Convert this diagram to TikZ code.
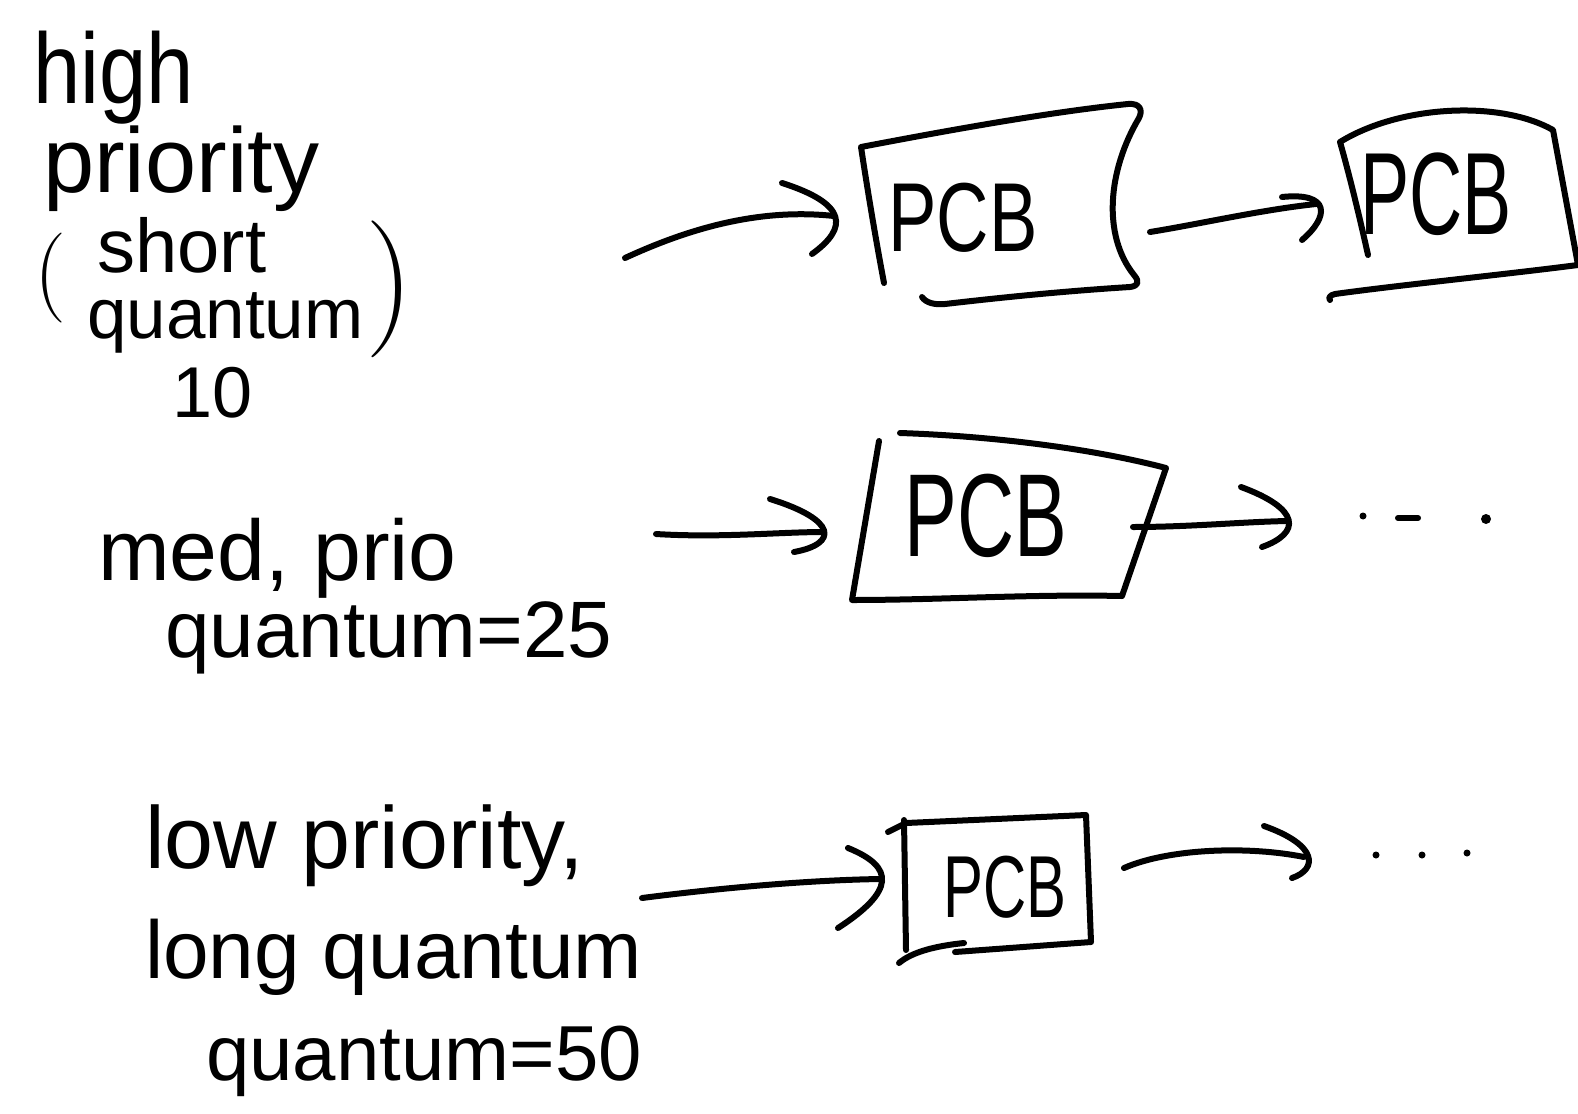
\documentclass[tikz,border=0pt]{standalone}
\usepackage{fontspec}
\setsansfont{Liberation Sans}
\newcommand\hsz[1]{\fontsize{#1}{#1}\selectfont}
% hand-drawn arrow head at named tip #1, upper barb offset #2, lower barb offset #3
\newcommand\hhead[3]{\draw[ink] ([shift={(#2)}]#1) .. controls ([shift={(14,-12)}]#1) and ([shift={(14,12)}]#1) .. ([shift={(#3)}]#1);}
\begin{document}
\begin{tikzpicture}[x=1pt,y=-1pt,
  ink/.style={line width=6pt, line cap=round, line join=round},
  lbl/.style={anchor=base west, inner sep=0pt, font=\sffamily\hsz{#1}},
  paren/.style={anchor=base west, inner sep=0pt, font=\rmfamily\hsz{#1}},
  pcb/.style={inner sep=0pt, font=\sffamily\hsz{#1}},
  dotn/.style={circle, fill, inner sep=0pt, minimum size=#1pt},
]
\fill[white] (0,0) rectangle (1578,1113);
\useasboundingbox (0,0) rectangle (1578,1113);

% ---- labels, row 1
\node[lbl=100] (hi) at (33,104) {\scalebox{0.85}[1]{high}};
\node[lbl=92] (pr) at (43,192) {priority};
\node[paren=90] (lp) at (34,300) {(};
\node[lbl=76] (sh) at (97,272) {short};
\node[lbl=71] (qu) at (87,338) {quantum};
\node[paren=137] (rp) at (365,323) {)};
\node[lbl=72] (ten) at (172,417) {10};

% ---- labels, row 2
\node[lbl=86] (md) at (98,580) {med, prio};
\node[lbl=80] (q25) at (165,657) {quantum=25};

% ---- labels, row 3
\node[lbl=88] (lw) at (145,868) {low priority,};
\node[lbl=82] (lg) at (145,978) {long quantum};
\node[lbl=78] (q50) at (206,1080) {quantum=50};

% ---- PCB texts
\node[pcb=98] (p1) at (963,218) {\scalebox{0.74}[1]{PCB}};
\node[pcb=117] (p2) at (1436,194) {\scalebox{0.63}[1]{PCB}};
\node[pcb=118] (p3) at (986,516) {\scalebox{0.67}[1]{PCB}};
\node[pcb=88] (p4) at (1005,887) {\scalebox{0.68}[1]{PCB}};

% ---- boxes
\draw[ink] (884,283) .. controls (874,230) and (866,180) .. (861,147)
  .. controls (950,130) and (1050,112) .. (1128,104)
  .. controls (1140,103) and (1143,110) .. (1139,118)
  .. controls (1108,170) and (1102,235) .. (1134,275)
  .. controls (1140,282) and (1138,286) .. (1130,287)
  .. controls (1050,292) and (980,300) .. (945,304)
  .. controls (935,305) and (926,303) .. (922,297);
\draw[ink] (1368,255) .. controls (1358,210) and (1348,170) .. (1340,142)
  .. controls (1400,105) and (1500,100) .. (1553,130) -- (1578,265)
  .. controls (1500,275) and (1400,285) .. (1335,294)
  .. controls (1330,295) and (1328,298) .. (1330,300);
\draw[ink] (900,433) .. controls (990,436) and (1090,448) .. (1166,468)
  -- (1122,596) .. controls (1030,594) and (940,600) .. (852,600) -- (879,441);
\draw[ink] (888,832) -- (906,823) -- (1086,815) -- (1091,942) -- (955,952);
\draw[ink] (904,820) -- (906,950);
\draw[ink] (964,943) .. controls (935,946) and (912,952) .. (899,963);

% ---- arrow end points
\coordinate (a1s) at (625,258); \coordinate (a1e) at (834,216);
\coordinate (a2s) at (1150,232); \coordinate (a2e) at (1316,204);
\coordinate (a3s) at (656,534); \coordinate (a3e) at (824,532);
\coordinate (a4s) at (1133,527); \coordinate (a4e) at (1287,521);
\coordinate (a5s) at (642,898); \coordinate (a5e) at (881,879);
\coordinate (a6s) at (1124,868); \coordinate (a6e) at (1304,857);

% ---- arrows
\draw[ink] (a1s) .. controls (690,228) and (760,208) .. (a1e);
\hhead{a1e}{-52,-33}{-22,38}
\draw[ink] (a2s) .. controls (1200,224) and (1260,210) .. (a2e);
\hhead{a2e}{-34,-7}{-14,36}
\draw[ink] (a3s) .. controls (720,538) and (780,532) .. (a3e);
\hhead{a3e}{-54,-33}{-30,20}
\draw[ink] (a4s) .. controls (1190,527) and (1240,522) .. (a4e);
\hhead{a4e}{-46,-34}{-25,26}
\draw[ink] (a5s) .. controls (720,888) and (810,880) .. (a5e);
\hhead{a5e}{-33,-31}{-43,49}
\draw[ink] (a6s) .. controls (1170,848) and (1250,846) .. (a6e);
\hhead{a6e}{-40,-31}{-12,21}

% ---- continuation dots
\node[dotn=7] (d2a) at (1363,516) {};
\draw[ink] (1398,518) -- (1418,518);
\node[dotn=10] (d2c) at (1486,519) {};
\node[dotn=7] (d3a) at (1376,855) {};
\node[dotn=7] (d3b) at (1422,855) {};
\node[dotn=7] (d3c) at (1467,853) {};
\end{tikzpicture}
\end{document}
